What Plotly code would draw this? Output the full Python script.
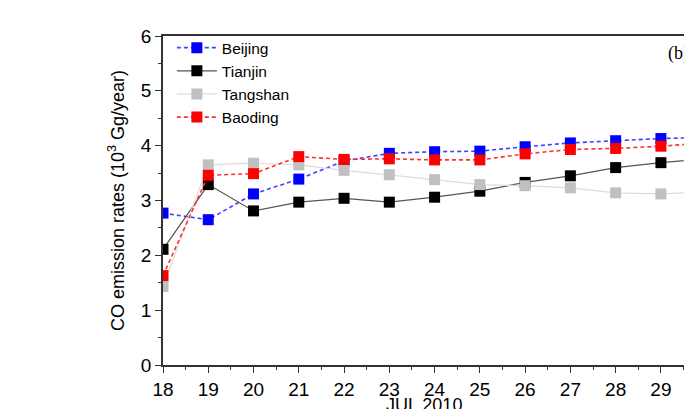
import plotly.graph_objects as go

days = [18, 19, 20, 21, 22, 23, 24, 25, 26, 27, 28, 29, 30]
beijing = [2.77, 2.65, 3.12, 3.39, 3.72, 3.86, 3.89, 3.90, 3.98, 4.05, 4.09, 4.13, 4.15]
tianjin = [2.11, 3.29, 2.81, 2.97, 3.04, 2.97, 3.06, 3.17, 3.33, 3.45, 3.60, 3.69, 3.76]
tangshan = [1.43, 3.65, 3.68, 3.65, 3.55, 3.47, 3.38, 3.29, 3.27, 3.23, 3.14, 3.12, 3.16]
baoding = [1.63, 3.46, 3.49, 3.80, 3.75, 3.76, 3.74, 3.74, 3.85, 3.93, 3.95, 3.99, 4.05]

x_ticks = list(range(18, 30))
y_ticks = [0, 1, 2, 3, 4, 5, 6]

FONT = "Liberation Sans, Arial, sans-serif"

fig = go.Figure()
series = [
    ("Beijing", beijing, "#0000ff", "#4040ff", "dash"),
    ("Tianjin", tianjin, "#000000", "#555555", "solid"),
    ("Tangshan", tangshan, "#c0c0c0", "#dcdcdc", "solid"),
    ("Baoding", baoding, "#ff0000", "#ff3030", "dash"),
]
for name, vals, mc, lc, dash in series:
    fig.add_trace(go.Scatter(
        x=days, y=vals, name=name, mode="lines+markers",
        line=dict(color=lc, width=1.6 if dash == "dash" else 1.2,
                  dash="solid" if dash == "solid" else "4px,3px"),
        marker=dict(symbol="square", size=11, color=mc, line=dict(width=0)),
    ))

fig.update_layout(
    width=684, height=409,
    margin=dict(l=163, r=0, t=36, b=44),
    paper_bgcolor="white", plot_bgcolor="white",
    font=dict(family=FONT, color="black"),
    showlegend=True,
    legend=dict(x=0.017, y=1.015, xanchor="left", yanchor="top",
                bgcolor="rgba(0,0,0,0)", font=dict(size=15.5, family=FONT),
                itemwidth=40, tracegroupgap=0),
    xaxis=dict(
        range=[18, 29.51], tickvals=x_ticks, ticktext=[str(v) for v in x_ticks],
        showgrid=False, zeroline=False, showline=True, linecolor="#333333", linewidth=1.5,
        mirror=True, ticks="outside", ticklen=6, tickwidth=1.2, tickcolor="#333333",
        tickfont=dict(size=19, family=FONT),
        minor=dict(dtick=0.5, tick0=18, ticks="outside", ticklen=3, tickwidth=1, tickcolor="#333333"),
    ),
    yaxis=dict(
        range=[0, 6], tickvals=y_ticks, showgrid=False, zeroline=False,
        showline=True, linecolor="#333333", linewidth=1.5, mirror=False,
        ticks="outside", ticklen=6, tickwidth=1.2, tickcolor="#333333",
        tickfont=dict(size=19, family=FONT),
        minor=dict(dtick=0.5, tick0=0, ticks="outside", ticklen=3, tickwidth=1, tickcolor="#333333"),
        title=dict(text="CO emission rates (10<sup>3</sup> Gg/year)", font=dict(size=18, family=FONT), standoff=12),
    ),
)

fig.add_annotation(
    text="JUL 2010", xref="paper", yref="paper", x=0.5, y=0, yshift=-27.5,
    xanchor="center", yanchor="top", showarrow=False,
    font=dict(size=18, family=FONT, color="black"),
)
fig.add_annotation(
    text="(b)", xref="paper", yref="paper", x=0.965, y=0.948,
    xanchor="left", yanchor="middle", showarrow=False,
    font=dict(size=18, family="Liberation Serif, Times New Roman, serif", color="black"),
)

fig.write_html(
    "out.html",
    config={"displayModeBar": False},
    post_script="document.body.style.margin='0';document.body.style.overflow='hidden';",
)
